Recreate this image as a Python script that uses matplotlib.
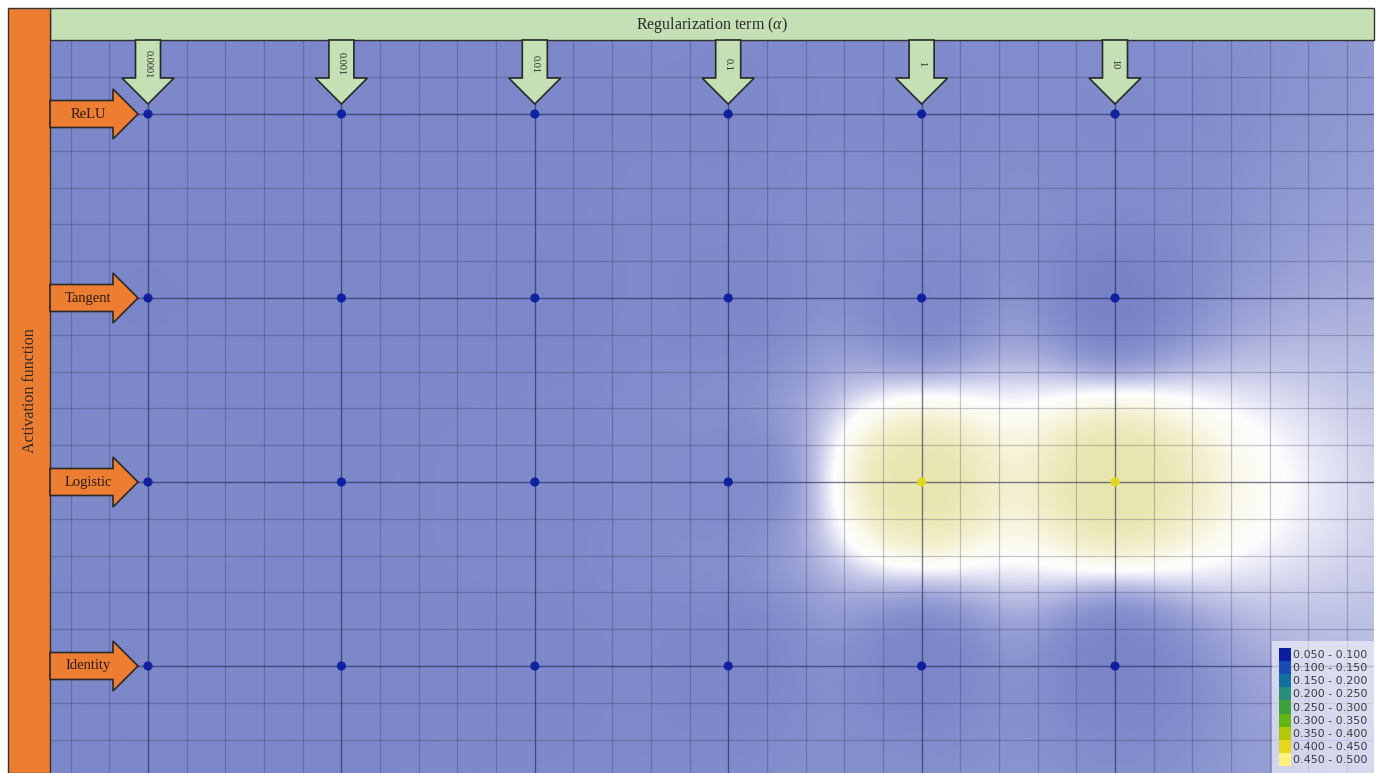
import numpy as np
import matplotlib
matplotlib.use("Agg")
import matplotlib.pyplot as plt
from matplotlib.colors import LinearSegmentedColormap, ListedColormap, BoundaryNorm
from matplotlib.patches import Polygon, Rectangle, Patch
from matplotlib.transforms import IdentityTransform

plt.rcParams["mathtext.fontset"] = "custom"
plt.rcParams["mathtext.rm"] = "Liberation Serif"
plt.rcParams["mathtext.it"] = "Liberation Serif:italic"

# ---- data -------------------------------------------------------------
alpha_labels = ["0.0001", "0.001", "0.01", "0.1", "1", "10"]
activations = ["ReLU", "Tangent", "Logistic", "Identity"]

# error per activation function (rows) and regularization term (columns)
err_relu = [0.082, 0.079, 0.081, 0.084, 0.088, 0.090]
err_tangent = [0.078, 0.080, 0.079, 0.083, 0.085, 0.072]
err_logistic = [0.085, 0.083, 0.086, 0.091, 0.438, 0.446]
err_identity = [0.081, 0.080, 0.082, 0.080, 0.079, 0.075]

bin_edges = [0.05, 0.10, 0.15, 0.20, 0.25, 0.30, 0.35, 0.40, 0.45, 0.50]
bin_colors = ["#0a1ea0", "#194bb4", "#146ea0", "#288c78", "#3ca03c",
              "#64b414", "#b4c80a", "#e6d71e", "#fff082"]

# ---- figure / axes ----------------------------------------------------
W, H = 1386, 773
fig = plt.figure(figsize=(W / 100, H / 100), dpi=100)
fig.patch.set_facecolor("white")

left_px, right_px, top_px = 50, 1374, 40
ax = fig.add_axes([left_px / W, 0, (right_px - left_px) / W, (H - top_px) / H])

ux, uy = 193.4, 184.0  # pixels per category step
x0, x1 = -(148 - left_px) / ux, 5 + (right_px - 1115) / ux
y_top, y_bot = -(114 - top_px) / uy, 3 + (H - 666) / uy
ax.set_xlim(x0, x1)
ax.set_ylim(y_bot, y_top)

err = np.array([err_relu, err_tangent, err_logistic, err_identity])
cols = np.arange(len(alpha_labels))
rows = np.arange(len(activations))
PX, PY = np.meshgrid(cols, rows)
px, py, pz = PX.ravel(), PY.ravel(), err.ravel()

# inverse distance weighted surface (power 3)
gx = np.linspace(x0, x1, 700)
gy = np.linspace(y_top, y_bot, 390)
GX, GY = np.meshgrid(gx, gy)
d = np.sqrt(((GX[..., None] - px) * ux) ** 2 + ((GY[..., None] - py) * uy) ** 2)
w = 1.0 / (d ** 3 + 1e-3)
field = (w * pz).sum(-1) / w.sum(-1)

stops = [
    (0.05, (110, 122, 193)),
    (0.08, (124, 136, 201)),
    (0.10, (133, 144, 206)),
    (0.14, (156, 163, 215)),
    (0.19, (192, 195, 229)),
    (0.235, (230, 231, 245)),
    (0.265, (253, 253, 254)),
    (0.31, (251, 250, 238)),
    (0.36, (244, 241, 210)),
    (0.42, (236, 232, 183)),
    (0.50, (228, 224, 160)),
]
surf_cmap = LinearSegmentedColormap.from_list(
    "surf", [((v - 0.05) / 0.45, tuple(c / 255 for c in rgb)) for v, rgb in stops])
ax.imshow(field, extent=(x0, x1, y_bot, y_top), origin="upper", cmap=surf_cmap,
          vmin=0.05, vmax=0.5, aspect="auto", interpolation="bilinear", zorder=0)

# grid: fine lattice plus darker lines through the sampled settings
ax.set_xticks(cols)
ax.set_yticks(rows)
ax.set_xticks(np.arange(-2, 32) * 0.2, minor=True)
ax.set_yticks(np.arange(-2, 18) * 0.2, minor=True)
ax.grid(which="minor", color="#1e1e46", alpha=0.24, lw=0.9)
ax.grid(which="major", color="#1e2250", alpha=0.6, lw=1.0)
ax.tick_params(which="both", length=0, labelbottom=False, labelleft=False)
for s in ax.spines.values():
    s.set_visible(False)

# sample points coloured by class
ax.scatter(px, py, c=pz, cmap=ListedColormap(bin_colors),
           norm=BoundaryNorm(bin_edges, len(bin_colors)), s=44,
           edgecolors="none", alpha=0.95, zorder=3)

# ---- header bars ------------------------------------------------------
ident = IdentityTransform()
fig.add_artist(Rectangle((left_px, H - top_px), right_px - left_px, 32,
                         transform=ident, facecolor="#c5e0b4", edgecolor="#333333",
                         lw=1.0))
fig.add_artist(Rectangle((8, 0), left_px - 8, H - 8, transform=ident,
                         facecolor="#ed7d31", edgecolor="#333333", lw=1.0))
fig.text(0.5 * (left_px + right_px), H - 25, r"Regularization term ($\alpha$)",
         transform=ident, ha="center", va="center", fontsize=11.5,
         family="Liberation Serif", color="#2a2a2a")
fig.text(30, H - 391, "Activation function", transform=ident, rotation=90,
         ha="center", va="center", fontsize=11.5, family="Liberation Serif",
         color="#2a2a2a")

# ---- pointer arrows ---------------------------------------------------
ytop_disp = H - top_px
for i, lab in enumerate(alpha_labels):
    X, Y = ax.transData.transform((cols[i], rows[0]))
    pts = [(X - 12.5, ytop_disp), (X + 12.5, ytop_disp), (X + 12.5, Y + 36),
           (X + 26, Y + 36), (X, Y + 10), (X - 26, Y + 36), (X - 12.5, Y + 36)]
    fig.add_artist(Polygon(pts, closed=True, transform=ident, facecolor="#c5e0b4",
                           edgecolor="#2a2a2a", lw=1.2, zorder=5))
    fig.text(X, Y + 50, lab, transform=ident, rotation=-90, ha="center",
             va="center", fontsize=7.5, family="Liberation Serif", color="#2a2a2a",
             zorder=6)

for j, lab in enumerate(activations):
    X, Y = ax.transData.transform((cols[0], rows[j]))
    pts = [(left_px, Y + 13.5), (X - 35, Y + 13.5), (X - 35, Y + 25), (X - 10, Y),
           (X - 35, Y - 25), (X - 35, Y - 13.5), (left_px, Y - 13.5)]
    fig.add_artist(Polygon(pts, closed=True, transform=ident, facecolor="#ed7d31",
                           edgecolor="#2a2a2a", lw=1.2, zorder=5))
    fig.text(X - 60, Y, lab, transform=ident, ha="center", va="center",
             fontsize=10.5, family="Liberation Serif", color="#2a1a10", zorder=6)

# ---- legend -----------------------------------------------------------
handles = [Patch(facecolor=c, edgecolor="none") for c in bin_colors]
labels = [f"{a:.3f} - {b:.3f}" for a, b in zip(bin_edges[:-1], bin_edges[1:])]
leg = ax.legend(handles, labels, loc="lower right", borderaxespad=0,
                prop={"family": "DejaVu Sans", "size": 8}, handlelength=1.05,
                handleheight=1.45, labelspacing=0.0, handletextpad=0.2,
                borderpad=0.6, frameon=True, fancybox=False, framealpha=0.55,
                facecolor="white", edgecolor="none")
for t in leg.get_texts():
    t.set_color("#3c3c3c")
leg.set_zorder(7)

fig.savefig("out.png", dpi=100)
